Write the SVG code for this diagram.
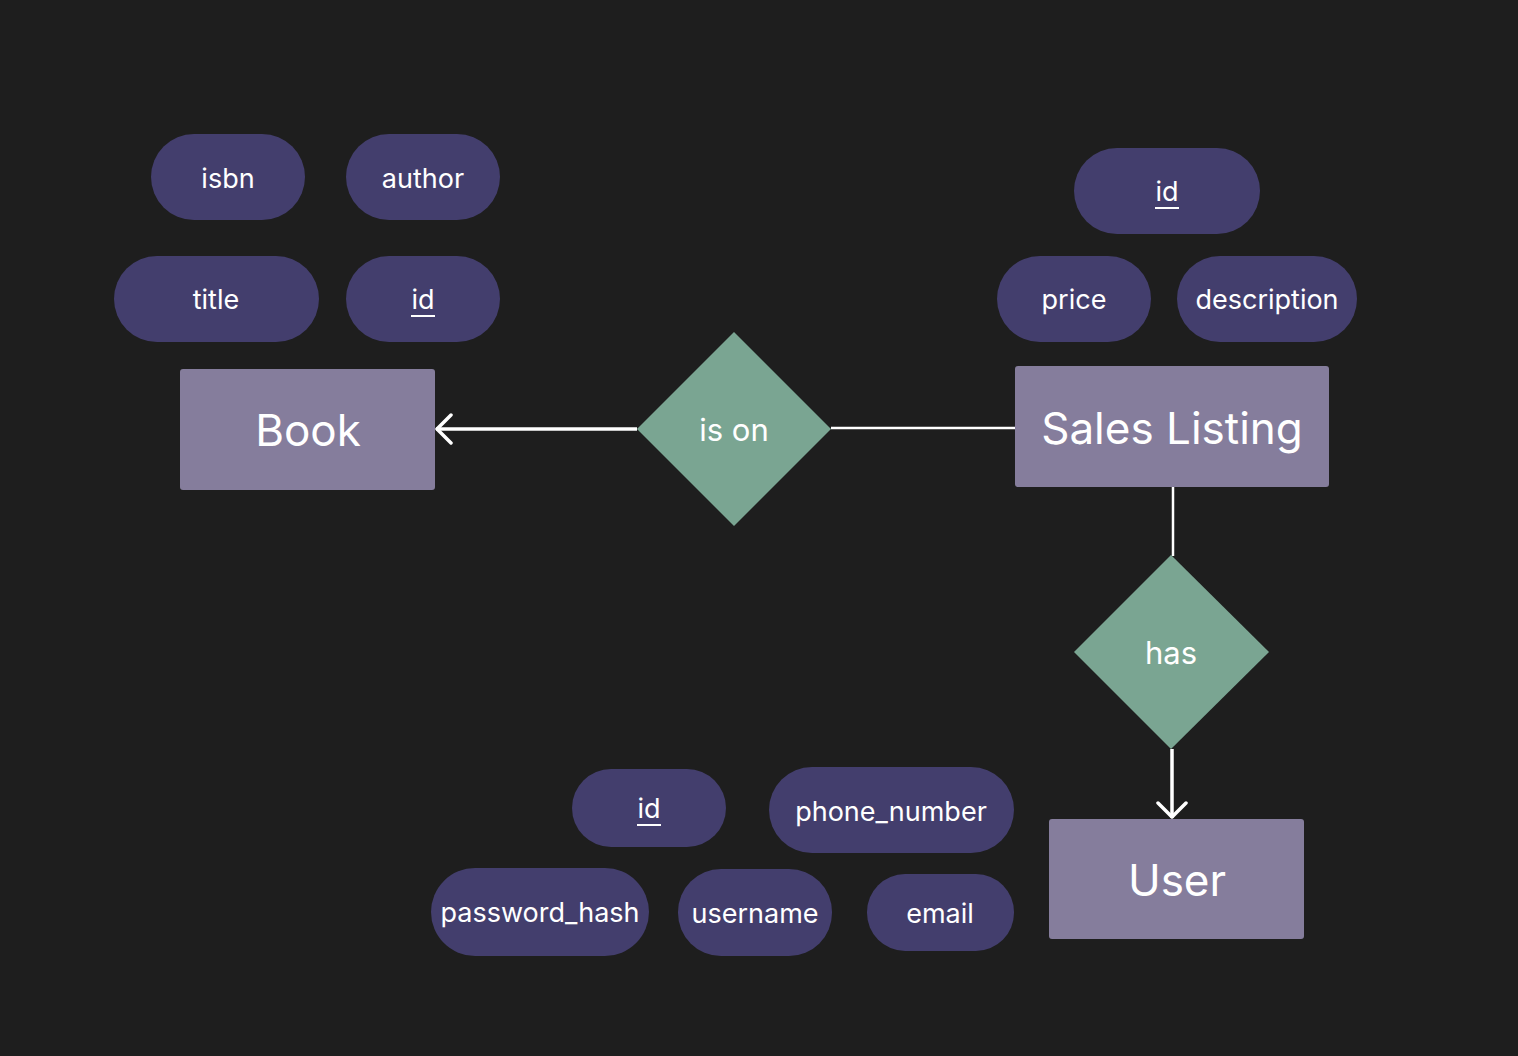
<svg xmlns="http://www.w3.org/2000/svg" width="1518" height="1056" viewBox="0 0 1518 1056">
<defs>
<style>
.attr{fill:#433e6d}
.ent{fill:#857d9c}
.rel{fill:#7aa592}
text{font-family:Inter,"Noto Sans","Liberation Sans",sans-serif;fill:#ffffff;text-anchor:middle;dominant-baseline:central}
.at{font-size:27px}
.et{font-size:44px}
.rt{font-size:31px}
.conn{stroke:#ffffff;stroke-width:2.5;fill:none}
.arr{stroke:#ffffff;stroke-width:3.5;fill:none}
.ul{stroke:#ffffff;stroke-width:2}
</style>
<marker id="open" viewBox="0 0 22 32" refX="19" refY="16" markerWidth="22" markerHeight="32" markerUnits="userSpaceOnUse" orient="auto">
<path d="M4,2 L18,16 L4,30" fill="none" stroke="#ffffff" stroke-width="3.5" stroke-linecap="round" stroke-linejoin="round"/>
</marker>
</defs>
<rect width="1518" height="1056" fill="#1e1e1e"/>
<g id="connectors">
<line class="arr" x1="637" y1="429" x2="436" y2="429" marker-end="url(#open)"/>
<line class="conn" x1="831" y1="428" x2="1015" y2="428"/>
<line class="conn" x1="1173" y1="487" x2="1173" y2="556"/>
<line class="arr" x1="1172" y1="749" x2="1172" y2="818" marker-end="url(#open)"/>
</g>
<g id="book_isbn"><rect class="attr" x="151" y="134" width="154" height="86" rx="43"/><text class="at" x="228" y="178">isbn</text></g>
<g id="book_author"><rect class="attr" x="346" y="134" width="154" height="86" rx="43"/><text class="at" x="423" y="178">author</text></g>
<g id="book_title"><rect class="attr" x="114" y="256" width="205" height="86" rx="43"/><text class="at" x="216" y="299">title</text></g>
<g id="book_id"><rect class="attr" x="346" y="256" width="154" height="86" rx="43"/><text class="at" x="423" y="299">id</text><line class="ul" x1="411" y1="316" x2="435" y2="316"/></g>
<g id="book"><rect class="ent" x="180" y="369" width="255" height="121" rx="3"/><text class="et" x="308" y="430">Book</text></g>
<g id="is_on"><polygon class="rel" points="734,332 831,429 734,526 637,429"/><text class="rt" x="734" y="429">is on</text></g>
<g id="sl_id"><rect class="attr" x="1074" y="148" width="186" height="86" rx="43"/><text class="at" x="1167" y="191">id</text><line class="ul" x1="1155" y1="208" x2="1179" y2="208"/></g>
<g id="sl_price"><rect class="attr" x="997" y="256" width="154" height="86" rx="43"/><text class="at" x="1074" y="299">price</text></g>
<g id="sl_description"><rect class="attr" x="1177" y="256" width="180" height="86" rx="43"/><text class="at" x="1267" y="299">description</text></g>
<g id="sales_listing"><rect class="ent" x="1015" y="366" width="314" height="121" rx="3"/><text class="et" x="1172" y="428">Sales Listing</text></g>
<g id="has"><polygon class="rel" points="1171,555 1269,652 1171,749 1074,652"/><text class="rt" x="1171" y="652">has</text></g>
<g id="user"><rect class="ent" x="1049" y="819" width="255" height="120" rx="3"/><text class="et" x="1177" y="880">User</text></g>
<g id="user_id"><rect class="attr" x="572" y="769" width="154" height="78" rx="39"/><text class="at" x="649" y="808">id</text><line class="ul" x1="637" y1="825" x2="661" y2="825"/></g>
<g id="user_phone_number"><rect class="attr" x="769" y="767" width="245" height="86" rx="43"/><text class="at" x="891" y="811">phone_number</text></g>
<g id="user_password_hash"><rect class="attr" x="431" y="868" width="218" height="88" rx="44"/><text class="at" x="540" y="912">password_hash</text></g>
<g id="user_username"><rect class="attr" x="678" y="869" width="154" height="87" rx="43"/><text class="at" x="755" y="913">username</text></g>
<g id="user_email"><rect class="attr" x="867" y="874" width="147" height="77" rx="38"/><text class="at" x="940" y="913">email</text></g>
</svg>
